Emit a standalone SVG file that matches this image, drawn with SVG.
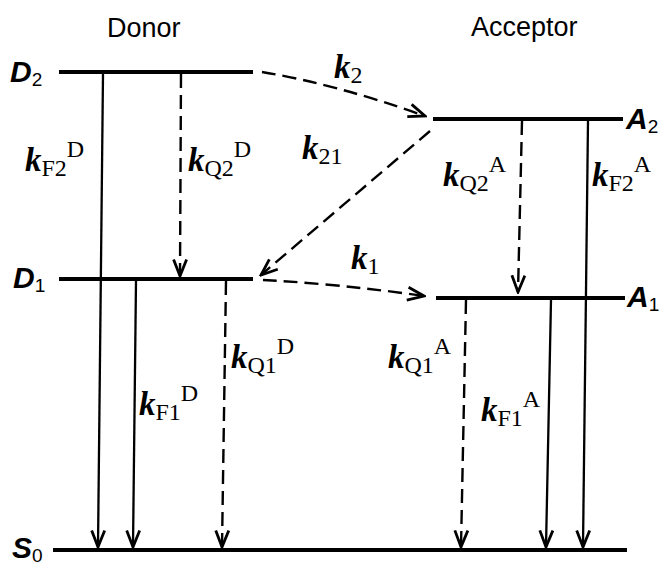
<svg xmlns="http://www.w3.org/2000/svg" width="666" height="566" viewBox="0 0 666 566">
<style>
.lvl{stroke:#000;stroke-width:4;fill:none}
.sol{stroke:#000;stroke-width:2.3;fill:none;marker-end:url(#ah)}
.dsh{stroke:#000;stroke-width:2.4;fill:none;stroke-dasharray:14 7;marker-end:url(#ah)}
.hdr{font-family:"Liberation Sans",Arial,sans-serif;font-size:27px}
.st{font-family:"Liberation Sans",Arial,sans-serif;font-size:30px;font-weight:bold;font-style:italic}
.sts{font-family:"Liberation Sans",Arial,sans-serif;font-size:19px;font-weight:normal;font-style:normal}
.k{font-family:"Liberation Serif","Times New Roman",serif;font-size:33px;font-weight:bold;font-style:italic}
.ks{font-family:"Liberation Serif","Times New Roman",serif;font-size:24px;font-weight:normal;font-style:normal}
</style>
<defs>
<marker id="ah" markerUnits="userSpaceOnUse" viewBox="0 0 20 16" refX="18" refY="8" markerWidth="20" markerHeight="16" orient="auto">
<path d="M1.5,1.5 L18,8 L1.5,14.5" fill="none" stroke="#000" stroke-width="2.8" stroke-dasharray="none"/>
</marker>
</defs>
<g id="headers">
<text class="hdr" x="107" y="37">Donor</text>
<text class="hdr" x="471" y="36">Acceptor</text>
</g>
<g id="D2"><line class="lvl" x1="59" y1="72" x2="253" y2="72"/><text class="st" x="10" y="82">D<tspan class="sts" dy="4">2</tspan></text></g>
<g id="D1"><line class="lvl" x1="59" y1="279" x2="253" y2="279"/><text class="st" x="13" y="288">D<tspan class="sts" dy="4">1</tspan></text></g>
<g id="A2"><line class="lvl" x1="433" y1="119" x2="623" y2="119"/><text class="st" x="626" y="129">A<tspan class="sts" dy="4">2</tspan></text></g>
<g id="A1"><line class="lvl" x1="436" y1="298" x2="625" y2="298"/><text class="st" x="627" y="307">A<tspan class="sts" dy="4">1</tspan></text></g>
<g id="S0"><line class="lvl" x1="53" y1="550" x2="627" y2="550"/><text class="st" x="12" y="558">S<tspan class="sts" dy="4">0</tspan></text></g>
<g id="connectors">
<path class="sol" d="M103,74 L98,547"/>
<path class="dsh" d="M181,74 L180,276"/>
<path class="sol" d="M136,281 L133,547"/>
<path class="dsh" d="M226,281 L222,547"/>
<path class="dsh" d="M522,121 L518,292"/>
<path class="sol" d="M588,121 L583,547"/>
<path class="dsh" d="M466,300 L461,547"/>
<path class="sol" d="M551,300 L546,547"/>
<path class="dsh" d="M262,72 Q335,84 425,116"/>
<path class="dsh" d="M430,131 L261,275"/>
<path class="dsh" d="M263,280 Q340,284 424,296"/>
</g>
<g id="labels">
<text x="25" y="171"><tspan class="k">k</tspan><tspan class="ks" dy="5">F2</tspan><tspan class="ks" dy="-19">D</tspan></text>
<text x="188" y="171"><tspan class="k">k</tspan><tspan class="ks" dy="5">Q2</tspan><tspan class="ks" dy="-19">D</tspan></text>
<text x="334" y="78"><tspan class="k">k</tspan><tspan class="ks" dy="5">2</tspan></text>
<text x="302" y="159"><tspan class="k">k</tspan><tspan class="ks" dy="5">21</tspan></text>
<text x="351" y="269"><tspan class="k">k</tspan><tspan class="ks" dy="5">1</tspan></text>
<text x="443" y="186"><tspan class="k">k</tspan><tspan class="ks" dy="5">Q2</tspan><tspan class="ks" dy="-19">A</tspan></text>
<text x="592" y="186"><tspan class="k">k</tspan><tspan class="ks" dy="5">F2</tspan><tspan class="ks" dy="-19">A</tspan></text>
<text x="231" y="368"><tspan class="k">k</tspan><tspan class="ks" dy="5">Q1</tspan><tspan class="ks" dy="-19">D</tspan></text>
<text x="139" y="415"><tspan class="k">k</tspan><tspan class="ks" dy="5">F1</tspan><tspan class="ks" dy="-19">D</tspan></text>
<text x="388" y="368"><tspan class="k">k</tspan><tspan class="ks" dy="5">Q1</tspan><tspan class="ks" dy="-19">A</tspan></text>
<text x="481" y="421"><tspan class="k">k</tspan><tspan class="ks" dy="5">F1</tspan><tspan class="ks" dy="-19">A</tspan></text>
</g>
</svg>
